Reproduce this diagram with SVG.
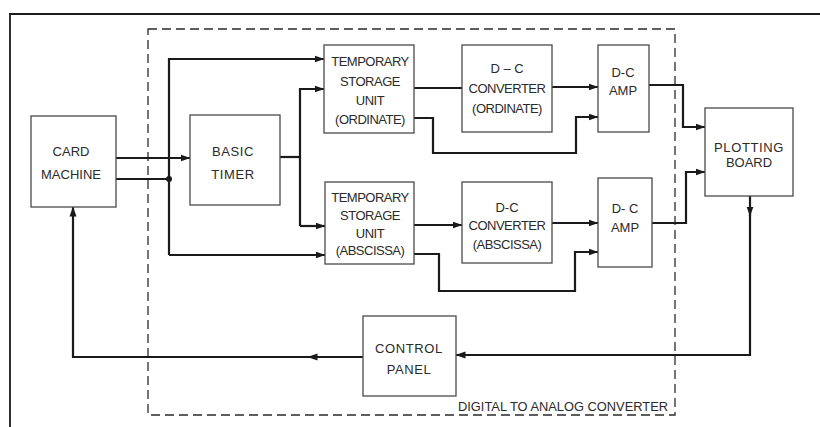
<svg xmlns="http://www.w3.org/2000/svg" width="820" height="427" viewBox="0 0 820 427">
<style>
.bg{fill:#ffffff}
.frame{fill:none;stroke:#1a1a1a;stroke-width:1.8}
.dash{fill:none;stroke:#2a2a2a;stroke-width:1.3;stroke-dasharray:9,5}
.box{fill:#ffffff;stroke:#4a4a4a;stroke-width:1.3}
.lbl{font-family:"Liberation Sans",Arial,sans-serif;font-size:13px;fill:#2a2a2a;text-anchor:middle}
.nar{letter-spacing:-0.5px}
.wid{letter-spacing:0.6px}
.cap{font-family:"Liberation Sans",Arial,sans-serif;font-size:13px;fill:#2a2a2a}
.wire{fill:none;stroke:#1a1a1a;stroke-width:2.2;stroke-linejoin:miter}
.arr{marker-end:url(#ah)}
.dot{fill:#1a1a1a}
</style>
<defs>
<marker id="ah" markerWidth="10" markerHeight="8" refX="9.5" refY="4" orient="auto" markerUnits="userSpaceOnUse">
<path d="M0,0.5 L10,4 L0,7.5 z" fill="#1a1a1a"/>
</marker>
</defs>
<rect class="bg" x="0" y="0" width="820" height="427"/>
<path class="frame" d="M10,427 V14 H820"/>
<g id="dac-boundary">
<rect class="dash" x="148" y="29" width="527" height="386"/>
<text class="cap" x="458" y="411" textLength="210" lengthAdjust="spacingAndGlyphs">DIGITAL TO ANALOG CONVERTER</text>
</g>
<g id="connectors">
<path class="wire arr" d="M116,158 H190"/>
<path class="wire" d="M116,179 H169"/>
<path class="wire arr" d="M169,255 V59 H324"/>
<path class="wire arr" d="M169,255 H325"/>
<circle class="dot" cx="169" cy="179" r="3"/>
<path class="wire" d="M280,157 H300"/>
<path class="wire arr" d="M300,226 V89 H324"/>
<path class="wire arr" d="M300,226 H325"/>
<path class="wire" d="M414,88 H462"/>
<path class="wire arr" d="M552,87 H598"/>
<path class="wire arr" d="M414,118 H433 V153 H576 V117 H598"/>
<path class="wire arr" d="M414,225 H462"/>
<path class="wire arr" d="M552,223 H598"/>
<path class="wire arr" d="M414,254 H439 V291 H575 V252 H598"/>
<path class="wire arr" d="M649,85 H683 V127 H705"/>
<path class="wire arr" d="M652,223 H686 V172 H705"/>
<path class="wire arr" d="M750,196 V216"/>
<path class="wire arr" d="M750,214 V355 H456"/>
<path class="wire arr" d="M363,357 H308"/>
<path class="wire arr" d="M310,357 H73 V207"/>
</g>
<g id="card-machine">
<rect class="box" x="31" y="116" width="85" height="91"/>
<text class="lbl" x="71" y="156">CARD</text>
<text class="lbl" x="71" y="179">MACHINE</text>
</g>
<g id="basic-timer">
<rect class="box" x="190" y="115" width="90" height="90"/>
<text class="lbl wid" x="233" y="156">BASIC</text>
<text class="lbl wid" x="233" y="179">TIMER</text>
</g>
<g id="temp-storage-ordinate">
<rect class="box" x="324" y="45" width="90" height="88"/>
<text class="lbl nar" x="370" y="66">TEMPORARY</text>
<text class="lbl nar" x="370" y="86">STORAGE</text>
<text class="lbl nar" x="370" y="105">UNIT</text>
<text class="lbl nar" x="370" y="124">(ORDINATE)</text>
</g>
<g id="dc-converter-ordinate">
<rect class="box" x="462" y="45" width="90" height="87"/>
<text class="lbl" x="507" y="73">D – C</text>
<text class="lbl nar" x="507" y="93">CONVERTER</text>
<text class="lbl nar" x="507" y="113">(ORDINATE)</text>
</g>
<g id="dc-amp-ordinate">
<rect class="box" x="598" y="45" width="51" height="87"/>
<text class="lbl" x="623" y="77">D-C</text>
<text class="lbl" x="623" y="95">AMP</text>
</g>
<g id="temp-storage-abscissa">
<rect class="box" x="325" y="182" width="89" height="82"/>
<text class="lbl nar" x="370" y="202">TEMPORARY</text>
<text class="lbl nar" x="370" y="220">STORAGE</text>
<text class="lbl nar" x="370" y="238">UNIT</text>
<text class="lbl nar" x="370" y="255">(ABSCISSA)</text>
</g>
<g id="dc-converter-abscissa">
<rect class="box" x="462" y="182" width="90" height="81"/>
<text class="lbl" x="507" y="212">D-C</text>
<text class="lbl nar" x="507" y="230">CONVERTER</text>
<text class="lbl nar" x="507" y="249">(ABSCISSA)</text>
</g>
<g id="dc-amp-abscissa">
<rect class="box" x="598" y="178" width="54" height="89"/>
<text class="lbl" x="625" y="213">D- C</text>
<text class="lbl" x="625" y="232">AMP</text>
</g>
<g id="plotting-board">
<rect class="box" x="705" y="108" width="88" height="88"/>
<text class="lbl wid" x="749" y="152">PLOTTING</text>
<text class="lbl" x="749" y="167">BOARD</text>
</g>
<g id="control-panel">
<rect class="box" x="363" y="316" width="93" height="80"/>
<text class="lbl wid" x="409" y="353">CONTROL</text>
<text class="lbl wid" x="409" y="374">PANEL</text>
</g>
</svg>
